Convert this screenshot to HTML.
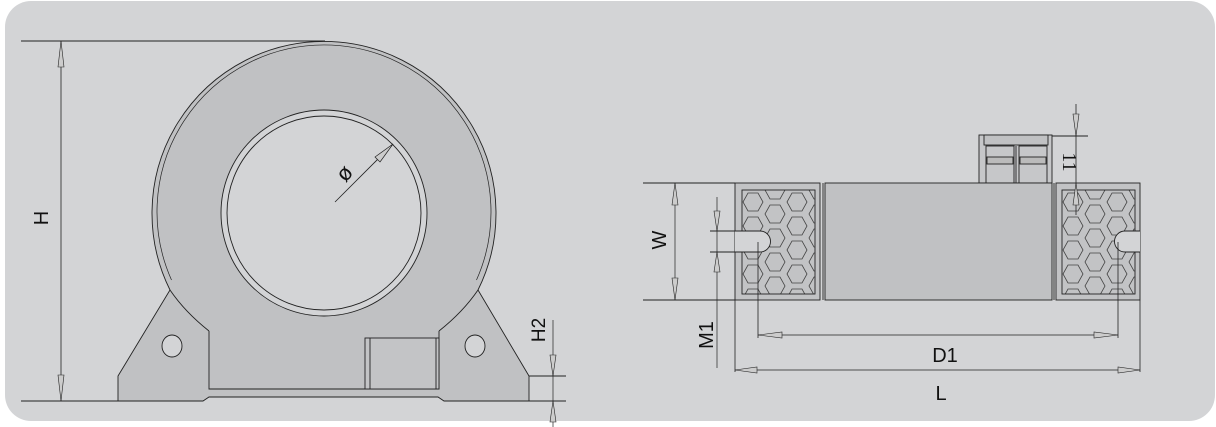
<!DOCTYPE html>
<html><head><meta charset="utf-8"><style>
html,body{margin:0;padding:0;background:#fff;}
svg{display:block}
text{font-family:"Liberation Sans",sans-serif;fill:#111}
</style></head><body>
<svg width="1216" height="427" viewBox="0 0 1216 427" xmlns="http://www.w3.org/2000/svg">
<defs>
<pattern id="hex" x="742" y="190" width="44" height="24" patternUnits="userSpaceOnUse">
<polygon points="1,12 6,3 16,3 21,12 16,21 6,21" fill="#c2c3c5" stroke="#444" stroke-width="0.8"/>
<polygon points="23,0 28,-9 38,-9 43,0 38,9 28,9" fill="#c2c3c5" stroke="#444" stroke-width="0.8"/>
<polygon points="23,24 28,15 38,15 43,24 38,33 28,33" fill="#c2c3c5" stroke="#444" stroke-width="0.8"/>
</pattern>
<pattern id="hex2" x="1062" y="190" width="44" height="24" patternUnits="userSpaceOnUse">
<polygon points="1,12 6,3 16,3 21,12 16,21 6,21" fill="#c2c3c5" stroke="#444" stroke-width="0.8"/>
<polygon points="23,0 28,-9 38,-9 43,0 38,9 28,9" fill="#c2c3c5" stroke="#444" stroke-width="0.8"/>
<polygon points="23,24 28,15 38,15 43,24 38,33 28,33" fill="#c2c3c5" stroke="#444" stroke-width="0.8"/>
</pattern>
</defs>
<rect x="5" y="1" width="1210" height="420" rx="26" fill="#d3d4d6"/>
<g stroke="#222" stroke-width="0.9" fill="none">
<!-- left drawing -->
<path d="M118,401 L118,376 L170,290 A172,172 0 1 1 478,290 L529,376 L529,401 L444,401 L438,397 L209,397 L203,401 Z" fill="#c0c1c3"/>
<path d="M209,331 Q185,312 170,290"/>
<path d="M439,331 Q463,312 478,290"/>
<path d="M171.5,280 A167,167 0 1 1 476.5,280" stroke-width="0.7"/>
<path d="M209,331 L209,389 L439,389 L439,331"/>
<circle cx="324" cy="213" r="103" fill="#d3d4d6"/>
<circle cx="324" cy="213" r="97"/>
<ellipse cx="172" cy="346" rx="10" ry="11" fill="#d3d4d6"/>
<ellipse cx="475" cy="346" rx="10" ry="11" fill="#d3d4d6"/>
<rect x="365" y="338" width="74" height="51" fill="#c3c4c6"/>
<line x1="370" y1="338" x2="370" y2="389"/><line x1="436" y1="338" x2="436" y2="389"/>
<line x1="335" y1="202" x2="393" y2="144" stroke-width="0.8"/>
<polygon points="393,144 380,162 375,157" fill="#ccc" stroke-width="0.7"/>
<line x1="21" y1="41" x2="325" y2="41" stroke-width="1"/>
<line x1="21" y1="401" x2="118" y2="401"/>
<line x1="61" y1="41" x2="61" y2="401" stroke-width="0.8"/>
<polygon points="61,41 58,67 64,67" fill="#ccc" stroke-width="0.6"/>
<polygon points="61,401 58,375 64,375" fill="#ccc" stroke-width="0.6"/>
<line x1="529" y1="376" x2="566" y2="376"/><line x1="529" y1="401" x2="566" y2="401"/>
<line x1="553" y1="320" x2="553" y2="427" stroke-width="0.7"/>
<polygon points="553,376 550,355 556,355" fill="#ccc" stroke-width="0.6"/>
<polygon points="553,401 550,422 556,422" fill="#ccc" stroke-width="0.6"/>
<!-- right drawing -->
<rect x="979" y="135" width="73" height="48" fill="#c6c7c9"/>
<rect x="984" y="135" width="64" height="10" fill="#c0c1c3"/>
<rect x="986" y="146" width="28" height="37"/><rect x="1019" y="146" width="28" height="37"/>
<rect x="987" y="157" width="26" height="7" fill="#bbb"/><rect x="1020" y="157" width="26" height="7" fill="#bbb"/>
<line x1="1016" y1="146" x2="1016" y2="183"/>
<rect x="735" y="183" width="85" height="117" fill="#c2c3c5"/>
<rect x="742" y="190" width="73" height="104" fill="url(#hex)"/>
<line x1="823" y1="183" x2="823" y2="300"/>
<rect x="825" y="183" width="227" height="117" fill="#c0c1c3"/>
<line x1="1054" y1="183" x2="1054" y2="300"/>
<rect x="1056" y="183" width="84" height="117" fill="#c2c3c5"/>
<rect x="1062" y="190" width="73" height="104" fill="url(#hex2)"/>
<path d="M735,231 L760,231 A10.5,10.5 0 0 1 760,252 L735,252 Z" fill="#d3d4d6" stroke="none"/>
<path d="M710,231 L760,231 A10.5,10.5 0 0 1 760,252 L710,252"/>
<path d="M1140,231 L1125,231 A10.5,10.5 0 0 0 1125,252 L1140,252 Z" fill="#d3d4d6" stroke="none"/>
<path d="M1140,231 L1125,231 A10.5,10.5 0 0 0 1125,252 L1140,252"/>
<line x1="643" y1="183" x2="735" y2="183"/><line x1="643" y1="300" x2="735" y2="300"/>
<line x1="675" y1="183" x2="675" y2="300" stroke-width="0.7"/>
<polygon points="675,183 672,205 678,205" fill="#ccc" stroke-width="0.6"/>
<polygon points="675,300 672,278 678,278" fill="#ccc" stroke-width="0.6"/>
<line x1="717" y1="197" x2="717" y2="368" stroke-width="0.7"/>
<polygon points="717,231 714,211 720,211" fill="#ccc" stroke-width="0.6"/>
<polygon points="717,252 714,272 720,272" fill="#ccc" stroke-width="0.6"/>
<line x1="1052" y1="136" x2="1088" y2="136"/>
<line x1="1076" y1="104" x2="1076" y2="215" stroke-width="0.8"/>
<polygon points="1076,136 1073,114 1079,114" fill="#ccc" stroke-width="0.6"/>
<polygon points="1076,183 1073,205 1079,205" fill="#ccc" stroke-width="0.6"/>
<line x1="758" y1="242" x2="758" y2="338" stroke-width="0.8"/>
<line x1="1118" y1="242" x2="1118" y2="338" stroke-width="0.8"/>
<line x1="758" y1="335" x2="1118" y2="335" stroke-width="0.8"/>
<polygon points="758,335 782,332 782,338" fill="#ccc" stroke-width="0.6"/>
<polygon points="1118,335 1094,332 1094,338" fill="#ccc" stroke-width="0.6"/>
<line x1="735" y1="300" x2="735" y2="372" stroke-width="0.8"/>
<line x1="1140" y1="300" x2="1140" y2="372" stroke-width="0.8"/>
<line x1="735" y1="370" x2="1140" y2="370" stroke-width="0.8"/>
<polygon points="735,370 757,367 757,373" fill="#ccc" stroke-width="0.6"/>
<polygon points="1140,370 1118,367 1118,373" fill="#ccc" stroke-width="0.6"/>
</g>
<text x="0" y="0" font-size="20" text-anchor="middle" transform="translate(48,218) rotate(-90)">H</text>
<text x="0" y="0" font-size="19" text-anchor="middle" transform="translate(545,330) rotate(-90)">H2</text>
<text x="0" y="0" font-size="22" text-anchor="middle" transform="translate(350,178) rotate(-50)">ø</text>
<text x="0" y="0" font-size="20" text-anchor="middle" transform="translate(666,240) rotate(-90)">W</text>
<text x="0" y="0" font-size="20" text-anchor="middle" transform="translate(713,335) rotate(-90)">M1</text>
<text x="0" y="0" font-size="20" text-anchor="middle" font-family="Liberation Serif" style="font-family:'Liberation Serif',serif" transform="translate(1063,162) rotate(90)">11</text>
<text x="945" y="362" font-size="20" text-anchor="middle">D1</text>
<text x="941" y="400" font-size="20" text-anchor="middle">L</text>
</svg>
</body></html>
